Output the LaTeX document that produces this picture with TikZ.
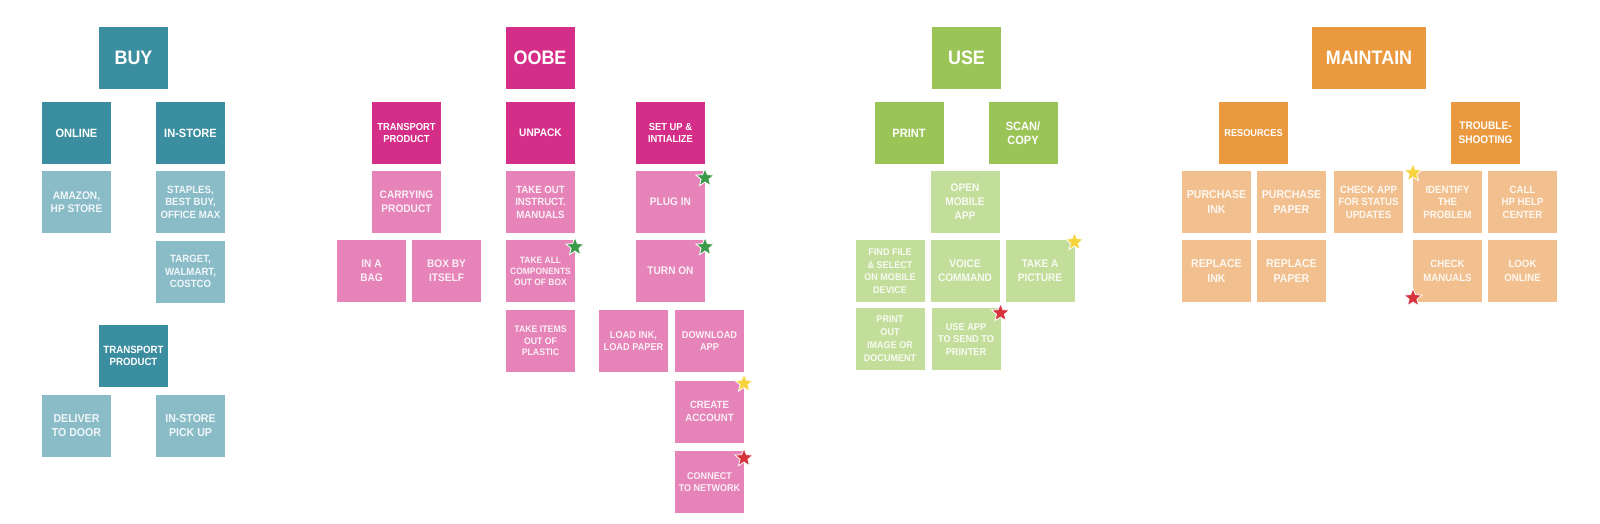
\documentclass[tikz,border=0pt]{standalone}
\usepackage{fontspec}
\setmainfont{Liberation Sans}[FakeStretch=0.92]
\usetikzlibrary{positioning}
\usetikzlibrary{shapes.geometric}

\definecolor{buydark}{HTML}{3B8E9F}
\definecolor{buylight}{HTML}{8ABCC8}
\definecolor{oobedark}{HTML}{D52E89}
\definecolor{oobelight}{HTML}{E683B8}
\definecolor{usedark}{HTML}{9AC455}
\definecolor{uselight}{HTML}{C3DE9A}
\definecolor{mntdark}{HTML}{EB993F}
\definecolor{mntlight}{HTML}{F2C08E}
\definecolor{stargreen}{HTML}{3C9A4B}
\definecolor{staryellow}{HTML}{F7D33C}
\definecolor{starred}{HTML}{D8323C}

\begin{document}
\begin{tikzpicture}[x=1pt,y=-1pt,
	box/.style={minimum width=69pt,minimum height=62pt,inner sep=0pt,outer sep=0pt,align=center,text=white},
	head/.style={box,fill=#1,font=\bfseries\fontsize{19.5}{22}\selectfont},
	sub/.style={box,fill=#1,font=\bfseries\fontsize{11}{13.5}\selectfont},
	item/.style={box,fill=#1,text opacity=.88,font=\bfseries\fontsize{10.5}{12.5}\selectfont},
	badge/.style={shape=star,star points=5,star point ratio=2.3,minimum size=19pt,inner sep=0pt,draw=white,line width=.8pt,fill=#1}]
	\useasboundingbox (0,0) rectangle (1600,523);

	% buy
	\node [head=buydark] at (133.5,57.5) (buy) {BUY};
	\node [sub=buydark,font=\bfseries\fontsize{12}{14}\selectfont] at (76.5,133) (buy_online) {ONLINE};
	\node [sub=buydark,font=\bfseries\fontsize{12}{14}\selectfont,right=45pt of buy_online] (buy_instore) {IN-STORE};
	\node [item=buylight,font=\bfseries\fontsize{11}{13.5}\selectfont,below=7pt of buy_online] (buy_amazon) {AMAZON,\\HP STORE};
	\node [item=buylight,below=7pt of buy_instore] (buy_staples) {STAPLES,\\BEST BUY,\\OFFICE MAX};
	\node [item=buylight,below=7.5pt of buy_staples] (buy_target) {TARGET,\\WALMART,\\COSTCO};
	\node [sub=buydark,font=\bfseries\fontsize{10.5}{12.5}\selectfont] at (133.5,356) (buy_transport) {TRANSPORT\\PRODUCT};
	\node [item=buylight,font=\bfseries\fontsize{11.5}{14}\selectfont,below=8pt of buy_transport,xshift=-57pt] (buy_door) {DELIVER\\TO DOOR};
	\node [item=buylight,font=\bfseries\fontsize{11.5}{14}\selectfont,right=45pt of buy_door] (buy_pickup) {IN-STORE\\PICK UP};

	% oobe
	\node [head=oobedark] at (540,57.5) (oobe) {OOBE};
	\node [sub=oobedark,font=\bfseries\fontsize{10.2}{12.5}\selectfont] at (406.5,133) (oobe_transport) {TRANSPORT\\PRODUCT};
	\node [sub=oobedark,right=65pt of oobe_transport] (oobe_unpack) {UNPACK};
	\node [sub=oobedark,font=\bfseries\fontsize{10.2}{12.5}\selectfont,right=61pt of oobe_unpack] (oobe_setup) {SET UP \&\\INTIALIZE};
	\node [item=oobelight,font=\bfseries\fontsize{11}{14}\selectfont,below=7pt of oobe_transport] (oobe_carry) {CARRYING\\PRODUCT};
	\node [item=oobelight,font=\bfseries\fontsize{11}{14}\selectfont,below=7pt of oobe_carry,xshift=-35pt] (oobe_bag) {IN A\\BAG};
	\node [item=oobelight,font=\bfseries\fontsize{11}{14}\selectfont,right=6pt of oobe_bag] (oobe_box) {BOX BY\\ITSELF};
	\node [item=oobelight,below=7pt of oobe_unpack] (oobe_takeout) {TAKE OUT\\INSTRUCT.\\MANUALS};
	\node [item=oobelight,font=\bfseries\fontsize{9.2}{11}\selectfont,below=7pt of oobe_takeout] (oobe_takeall) {TAKE ALL\\COMPONENTS\\OUT OF BOX};
	\node [item=oobelight,font=\bfseries\fontsize{9.5}{11.5}\selectfont,below=8pt of oobe_takeall] (oobe_takeitems) {TAKE ITEMS\\OUT OF\\PLASTIC};
	\node [item=oobelight,font=\bfseries\fontsize{11}{14}\selectfont,below=7pt of oobe_setup] (oobe_plugin) {PLUG IN};
	\node [item=oobelight,font=\bfseries\fontsize{11}{14}\selectfont,below=7pt of oobe_plugin] (oobe_turnon) {TURN ON};
	\node [item=oobelight,font=\bfseries\fontsize{10}{12.5}\selectfont,below=8pt of oobe_turnon,xshift=-37pt] (oobe_load) {LOAD INK,\\LOAD PAPER};
	\node [item=oobelight,font=\bfseries\fontsize{10}{12.5}\selectfont,right=7pt of oobe_load] (oobe_download) {DOWNLOAD\\APP};
	\node [item=oobelight,font=\bfseries\fontsize{10.5}{13}\selectfont,below=8.5pt of oobe_download] (oobe_create) {CREATE\\ACCOUNT};
	\node [item=oobelight,font=\bfseries\fontsize{9.8}{12.5}\selectfont,below=8.5pt of oobe_create] (oobe_connect) {CONNECT\\TO NETWORK};

	% use
	\node [head=usedark] at (966.5,57.5) (use) {USE};
	\node [sub=usedark,font=\bfseries\fontsize{12}{14}\selectfont] at (909,133) (use_print) {PRINT};
	\node [sub=usedark,font=\bfseries\fontsize{12}{14}\selectfont,right=45pt of use_print] (use_scan) {SCAN/\\COPY};
	\node [item=uselight,font=\bfseries\fontsize{11}{14}\selectfont] at (965,202) (use_open) {OPEN\\MOBILE\\APP};
	\node [item=uselight,font=\bfseries\fontsize{11}{14}\selectfont,below=7pt of use_open] (use_voice) {VOICE\\COMMAND};
	\node [item=uselight,font=\bfseries\fontsize{9.8}{12.5}\selectfont,left=6pt of use_voice] (use_find) {FIND FILE\\\& SELECT\\ON MOBILE\\DEVICE};
	\node [item=uselight,font=\bfseries\fontsize{11}{14}\selectfont,right=6pt of use_voice] (use_picture) {TAKE A\\PICTURE};
	\node [item=uselight,font=\bfseries\fontsize{9.8}{13}\selectfont,below=6pt of use_find] (use_printout) {PRINT\\OUT\\IMAGE OR\\DOCUMENT};
	\node [item=uselight,font=\bfseries\fontsize{10}{12.5}\selectfont,right=7pt of use_printout] (use_app) {USE APP\\TO SEND TO\\PRINTER};

	% maintain
	\node [head=mntdark,minimum width=114pt] at (1369,57.5) (maintain) {MAINTAIN};
	\node [sub=mntdark,font=\bfseries\fontsize{10}{12.5}\selectfont] at (1253.5,133) (mnt_resources) {RESOURCES};
	\node [sub=mntdark,font=\bfseries\fontsize{11}{14}\selectfont] at (1485.5,133) (mnt_trouble) {TROUBLE-\\SHOOTING};
	\node [item=mntlight,font=\bfseries\fontsize{11.5}{14.5}\selectfont] at (1216.5,202) (mnt_buyink) {PURCHASE\\INK};
	\node [item=mntlight,font=\bfseries\fontsize{11.5}{14.5}\selectfont,right=6pt of mnt_buyink] (mnt_buypaper) {PURCHASE\\PAPER};
	\node [item=mntlight,right=8pt of mnt_buypaper] (mnt_checkapp) {CHECK APP\\FOR STATUS\\UPDATES};
	\node [item=mntlight,right=10pt of mnt_checkapp] (mnt_identify) {IDENTIFY\\THE\\PROBLEM};
	\node [item=mntlight,right=6pt of mnt_identify] (mnt_call) {CALL\\HP HELP\\CENTER};
	\node [item=mntlight,font=\bfseries\fontsize{11.5}{14.5}\selectfont,below=7pt of mnt_buyink] (mnt_newink) {REPLACE\\INK};
	\node [item=mntlight,font=\bfseries\fontsize{11.5}{14.5}\selectfont,below=7pt of mnt_buypaper] (mnt_newpaper) {REPLACE\\PAPER};
	\node [item=mntlight,font=\bfseries\fontsize{10.5}{13.5}\selectfont,below=7pt of mnt_identify] (mnt_manuals) {CHECK\\MANUALS};
	\node [item=mntlight,font=\bfseries\fontsize{10.5}{13.5}\selectfont,below=7pt of mnt_call] (mnt_online) {LOOK\\ONLINE};

	% stars
	\node [badge=stargreen] at ([yshift=-7pt]oobe_plugin.north east) (star_plugin) {};
	\node [badge=stargreen] at ([yshift=-7pt]oobe_takeall.north east) (star_takeall) {};
	\node [badge=stargreen] at ([yshift=-7pt]oobe_turnon.north east) (star_turnon) {};
	\node [badge=staryellow] at ([yshift=-3pt]oobe_create.north east) (star_create) {};
	\node [badge=starred] at ([yshift=-7pt]oobe_connect.north east) (star_connect) {};
	\node [badge=staryellow] at ([yshift=-2pt]use_picture.north east) (star_picture) {};
	\node [badge=starred] at ([yshift=-5pt]use_app.north east) (star_app) {};
	\node [badge=staryellow] at ([yshift=-2pt]mnt_identify.north west) (star_identify) {};
	\node [badge=starred] at ([yshift=4pt]mnt_manuals.south west) (star_manuals) {};
\end{tikzpicture}
\end{document}
